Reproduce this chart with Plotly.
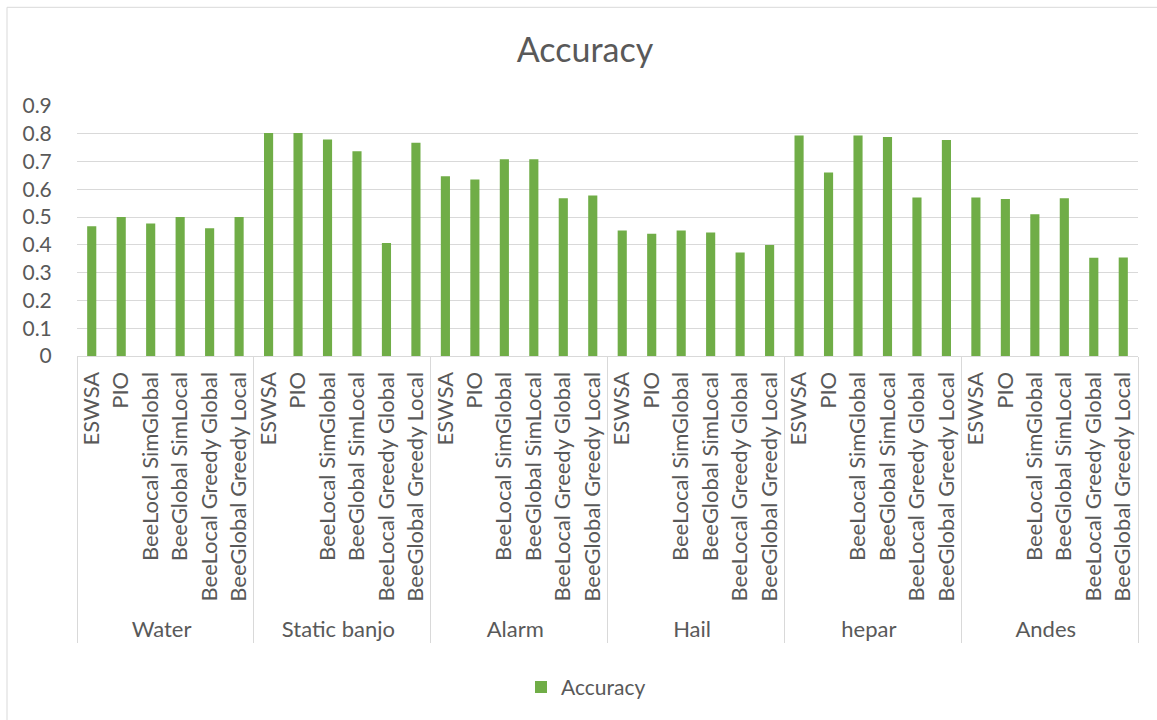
import plotly.graph_objects as go

# Datasets and the methods evaluated on each
datasets = ["Water", "Static banjo", "Alarm", "Hail", "hepar", "Andes"]
methods = ["ESWSA", "PIO", "BeeLocal SimGlobal", "BeeGlobal SimLocal",
           "BeeLocal Greedy Global", "BeeGlobal Greedy Local"]

# Accuracy per dataset, in method order
acc_water = [0.467, 0.500, 0.477, 0.500, 0.460, 0.500]
acc_static_banjo = [0.803, 0.803, 0.779, 0.737, 0.407, 0.768]
acc_alarm = [0.647, 0.635, 0.708, 0.708, 0.568, 0.578]
acc_hail = [0.452, 0.440, 0.452, 0.445, 0.373, 0.400]
acc_hepar = [0.794, 0.661, 0.794, 0.788, 0.571, 0.778]
acc_andes = [0.571, 0.565, 0.510, 0.568, 0.354, 0.355]

y_ticks = [0, 0.1, 0.2, 0.3, 0.4, 0.5, 0.6, 0.7, 0.8, 0.9]
y_tick_text = ["0", "0.1", "0.2", "0.3", "0.4", "0.5", "0.6", "0.7", "0.8", "0.9"]

all_acc = [acc_water, acc_static_banjo, acc_alarm, acc_hail, acc_hepar, acc_andes]
outer = [d for d in datasets for _ in methods]
inner = [m for _ in datasets for m in methods]
values = [v for series in all_acc for v in series]

TEXT = "#595959"
GRID = "#D9D9D9"
FONT = "Lato"

fig = go.Figure()
fig.add_trace(go.Bar(
    x=[outer, inner],
    y=values,
    name="Accuracy",
    marker=dict(color="#70AD47", line=dict(width=0)),
    showlegend=True,
))

fig.update_layout(
    width=1157,
    height=720,
    margin=dict(l=77, r=19, t=106, b=364),
    paper_bgcolor="white",
    plot_bgcolor="white",
    bargap=0.69,
    font=dict(family=FONT, color=TEXT, size=21),
    title=dict(text="Accuracy", x=585 / 1157, xanchor="center", y=1 - 50 / 720,
               yanchor="middle", font=dict(family=FONT, size=34, color=TEXT)),
    showlegend=True,
    legend=dict(orientation="h", x=(586 - 77) / 1061, xanchor="center", y=-1.325,
                yanchor="middle", font=dict(family=FONT, size=21, color=TEXT),
                itemwidth=30, tracegroupgap=0),
    xaxis=dict(
        type="multicategory",
        tickangle=-90,
        showline=True, linecolor=GRID, linewidth=1,
        showgrid=False,
        ticks="",
        ticklabelstandoff=6,
        showdividers=True, dividercolor=GRID, dividerwidth=1,
        tickfont=dict(family=FONT, size=22, color=TEXT),
    ),
    yaxis=dict(
        range=[0, 0.9],
        tickvals=y_ticks, ticktext=y_tick_text,
        showgrid=True, gridcolor=GRID, gridwidth=1,
        zeroline=False, showline=False,
        ticks="outside", ticklen=20, tickcolor="rgba(0,0,0,0)",
        tickfont=dict(family=FONT, size=21, color=TEXT),
    ),
    shapes=[dict(type="rect", xref="paper", yref="paper",
                 x0=(7 - 77) / 1061, x1=(1170 - 77) / 1061,
                 y0=(355.7 - 730) / 250, y1=(355.7 - 7) / 250,
                 line=dict(color=GRID, width=1), layer="below")],
)

fig.write_html("out.html")
